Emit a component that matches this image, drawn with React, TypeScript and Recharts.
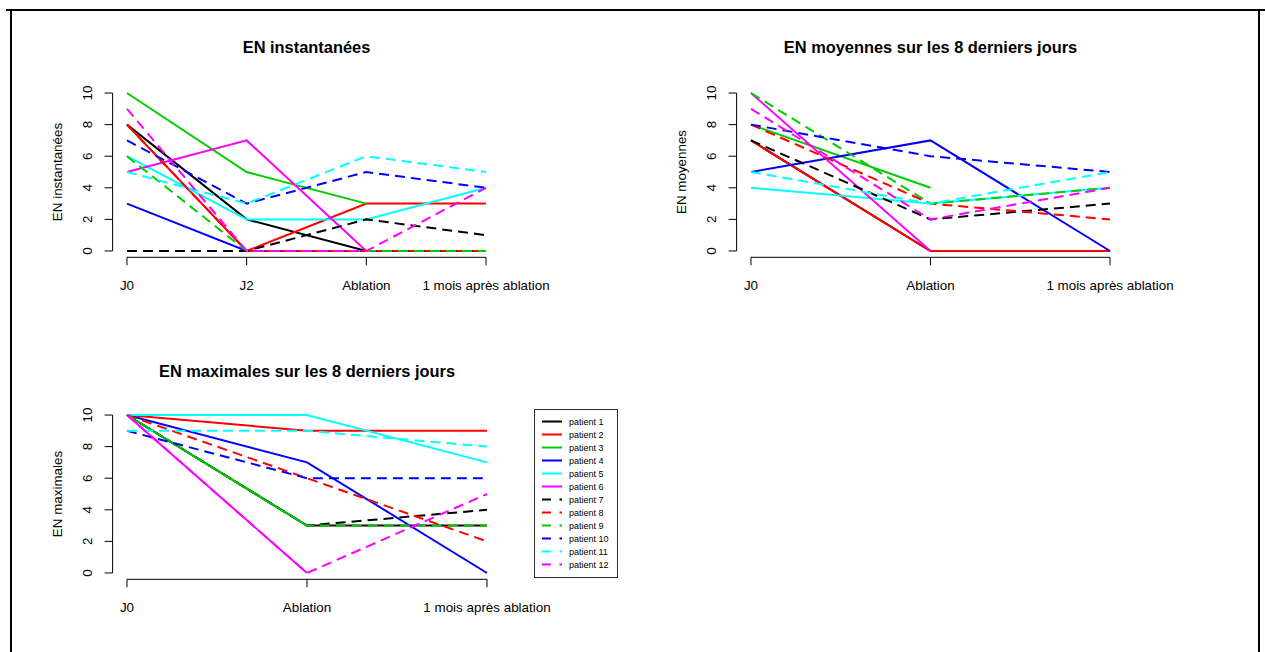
import React from 'react';
import { LineChart, Line, XAxis, YAxis, ReferenceLine } from 'recharts';

// ---------- data ----------
const patients = [
  'patient 1', 'patient 2', 'patient 3', 'patient 4', 'patient 5', 'patient 6',
  'patient 7', 'patient 8', 'patient 9', 'patient 10', 'patient 11', 'patient 12',
];
const patientColors = [
  '#000000', '#FF0000', '#00CD00', '#0000FF', '#00FFFF', '#FF00FF',
  '#000000', '#FF0000', '#00CD00', '#0000FF', '#00FFFF', '#FF00FF',
];
const patientDashed = [false, false, false, false, false, false, true, true, true, true, true, true];

const catsInst = ['J0', 'J2', 'Ablation', '1 mois après ablation'];
const catsMoy = ['J0', 'Ablation', '1 mois après ablation'];
const catsMax = ['J0', 'Ablation', '1 mois après ablation'];

const yTicks = [0, 2, 4, 6, 8, 10];

// one row per patient, one value per category (null = missing)
const valsInst: (number | null)[][] = [
  [8, 2, 0, 0],
  [8, 0, 3, 3],
  [10, 5, 3, null],
  [3, 0, 0, 0],
  [6, 2, 2, 4],
  [5, 7, 0, null],
  [0, 0, 2, 1],
  [8, 0, 0, 0],
  [6, 0, 0, 0],
  [7, 3, 5, 4],
  [5, 3, 6, 5],
  [9, 0, 0, 4],
];

const valsMoy: (number | null)[][] = [
  [7, 0, 0],
  [7, 0, 0],
  [8, 4, null],
  [5, 7, 0],
  [4, 3, 4],
  [10, 0, null],
  [7, 2, 3],
  [8, 3, 2],
  [10, 3, 4],
  [8, 6, 5],
  [5, 3, 5],
  [9, 2, 4],
];

const valsMax: (number | null)[][] = [
  [10, 3, 3],
  [10, 9, 9],
  [10, 3, null],
  [10, 7, 0],
  [10, 10, 7],
  [10, 0, null],
  [10, 3, 4],
  [10, 6, 2],
  [10, 3, 3],
  [9, 6, 6],
  [9, 9, 8],
  [10, 0, 5],
];

// ---------- helpers ----------
const FONT = '"Liberation Sans", Arial, Helvetica, sans-serif';
const AXIS_FS = 13.4;
const TITLE_FS = 16.4;

function buildRows(cats: string[], vals: (number | null)[][]) {
  return cats.map((c, i) => {
    const row: Record<string, any> = { x: i + 1, cat: c };
    vals.forEach((s, p) => {
      row['p' + (p + 1)] = s[i];
    });
    return row;
  });
}

type Plot = { l: number; t: number; r: number; b: number };

type PanelProps = {
  title: string;
  ylab: string;
  cats: string[];
  vals: (number | null)[][];
  left: number;
  top: number;
  width: number;
  height: number;
  plot: Plot;
  titleY: number;
};

function Panel({ title, ylab, cats, vals, left, top, width, height, plot, titleY }: PanelProps) {
  const n = cats.length;
  const padX = 0.04 * (n - 1);
  const xmin = 1 - padX;
  const xmax = n + padX;
  const ymin = -0.4;
  const ymax = 10.4;
  const data = buildRows(cats, vals);
  const xAxisH = 40;
  const margin = {
    top: plot.t,
    left: 0,
    right: width - plot.r,
    bottom: height - plot.b - xAxisH,
  };
  const plotMidY = (plot.t + plot.b) / 2;
  const centerX = (plot.l + plot.r) / 2;

  const YTick = (props: any) => {
    const { y, payload } = props;
    return (
      <text
        transform={`translate(${plot.l - 20.2}, ${y}) rotate(-90)`}
        textAnchor="middle"
        fontSize={AXIS_FS}
        fontFamily={FONT}
        fill="#000"
      >
        {payload.value}
      </text>
    );
  };

  const XTick = (props: any) => {
    const { x, payload } = props;
    return (
      <text x={x} y={plot.b + 32.5} textAnchor="middle" fontSize={AXIS_FS} fontFamily={FONT} fill="#000">
        {cats[payload.value - 1]}
      </text>
    );
  };

  const YLabel = () => (
    <text
      transform={`translate(${plot.l - 51}, ${plotMidY}) rotate(-90)`}
      textAnchor="middle"
      fontSize={AXIS_FS}
      fontFamily={FONT}
      fill="#000"
    >
      {ylab}
    </text>
  );

  return (
    <div style={{ position: 'absolute', left, top, width, height }}>
      <div
        style={{
          position: 'absolute',
          left: centerX - 250,
          width: 500,
          top: titleY - 10,
          height: 20,
          lineHeight: '20px',
          textAlign: 'center',
          fontFamily: FONT,
          fontWeight: 'bold',
          fontSize: TITLE_FS,
          color: '#000',
          whiteSpace: 'nowrap',
        }}
      >
        {title}
      </div>
      <LineChart width={width} height={height} data={data} margin={margin}>
        <XAxis
          type="number"
          dataKey="x"
          domain={[xmin, xmax]}
          allowDataOverflow
          ticks={cats.map((_, i) => i + 1)}
          interval={0}
          height={xAxisH}
          axisLine={false}
          tickLine={{ stroke: '#000', strokeWidth: 1 }}
          tickSize={8}
          tick={<XTick />}
        />
        <YAxis
          type="number"
          domain={[ymin, ymax]}
          allowDataOverflow
          ticks={yTicks}
          interval={0}
          width={plot.l}
          axisLine={false}
          tickLine={{ stroke: '#000', strokeWidth: 1 }}
          tickSize={8}
          tick={<YTick />}
          label={<YLabel />}
        />
        <ReferenceLine
          segment={[{ x: xmin, y: 0 }, { x: xmin, y: 10 }]}
          stroke="#000"
          strokeWidth={1}
          ifOverflow="visible"
        />
        <ReferenceLine
          segment={[{ x: 1, y: ymin }, { x: n, y: ymin }]}
          stroke="#000"
          strokeWidth={1}
          ifOverflow="visible"
        />
        {patients.map((p, i) => (
          <Line
            key={p}
            name={p}
            type="linear"
            dataKey={'p' + (i + 1)}
            stroke={patientColors[i]}
            strokeWidth={2}
            strokeDasharray={patientDashed[i] ? '10 6' : undefined}
            dot={false}
            activeDot={false}
            connectNulls={false}
            isAnimationActive={false}
          />
        ))}
      </LineChart>
    </div>
  );
}

function LegendBox({ left, top }: { left: number; top: number }) {
  const w = 83;
  const h = 168;
  return (
    <svg
      style={{ position: 'absolute', left, top }}
      width={w + 2}
      height={h + 2}
    >
      <rect x={0.5} y={0.5} width={w} height={h} fill="#fff" stroke="#333" strokeWidth={1} />
      {patients.map((p, i) => {
        const y = 12.5 + i * 13;
        return (
          <g key={p}>
            <line
              x1={8}
              x2={28}
              y1={y}
              y2={y}
              stroke={patientColors[i]}
              strokeWidth={2}
              strokeDasharray={patientDashed[i] ? '9 8.5' : undefined}
            />
            <text x={35} y={y + 3.3} fontSize={9} fontFamily={FONT} fill="#000">
              {p}
            </text>
          </g>
        );
      })}
    </svg>
  );
}

export default function App() {
  return (
    <div style={{ position: 'absolute', left: 0, top: 0, width: 1265, height: 652, background: '#fff', overflow: 'hidden' }}>
      {/* frame */}
      <div style={{ position: 'absolute', left: 6, top: 9, width: 1259, height: 2, background: '#000' }} />
      <div style={{ position: 'absolute', left: 10, top: 9, width: 2, height: 643, background: '#000' }} />
      <div style={{ position: 'absolute', left: 1258, top: 9, width: 2, height: 643, background: '#000' }} />

      <Panel
        title="EN instantanées"
        ylab="EN instantanées"
        cats={catsInst}
        vals={valsInst}
        left={0}
        top={0}
        width={620}
        height={320}
        plot={{ l: 112.6, t: 86.7, r: 500.4, b: 257.3 }}
        titleY={47}
      />
      <Panel
        title="EN moyennes sur les 8 derniers jours"
        ylab="EN moyennes"
        cats={catsMoy}
        vals={valsMoy}
        left={620}
        top={0}
        width={645}
        height={320}
        plot={{ l: 116.6, t: 86.7, r: 504.4, b: 257.3 }}
        titleY={47}
      />
      <Panel
        title="EN maximales sur les 8 derniers jours"
        ylab="EN maximales"
        cats={catsMax}
        vals={valsMax}
        left={0}
        top={320}
        width={620}
        height={332}
        plot={{ l: 112.6, t: 88.7, r: 501.4, b: 259.3 }}
        titleY={51}
      />
      <LegendBox left={534} top={409} />
    </div>
  );
}
